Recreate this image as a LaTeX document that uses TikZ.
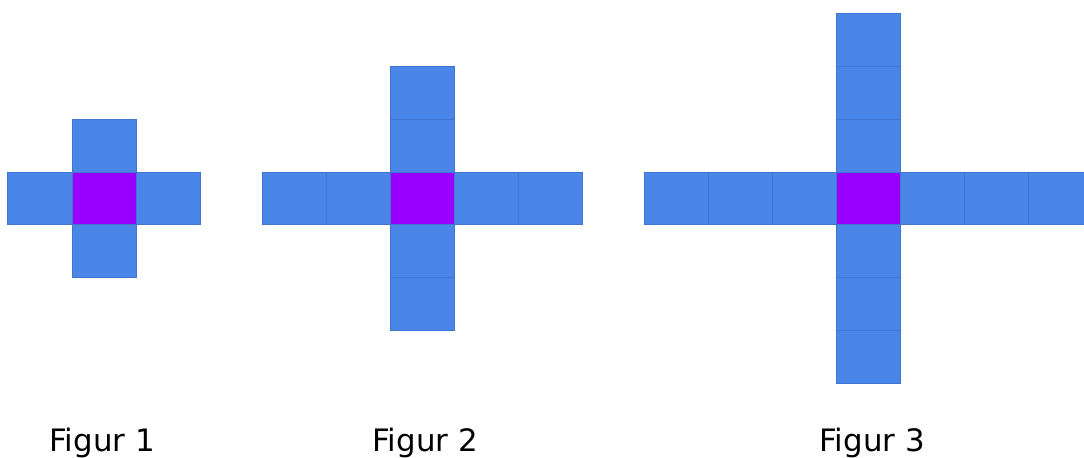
\documentclass[tikz,border=0pt]{standalone}
\usepackage{fontspec}
\setmainfont{DejaVu Sans}
\definecolor{cellblue}{HTML}{4A86E8}
\definecolor{celledge}{HTML}{3F74CF}
\definecolor{cellpurple}{HTML}{9900FF}
\begin{document}
\begin{tikzpicture}[x=1bp,y=1bp,
  cell/.style={draw=celledge,fill=cellblue,line width=1bp,minimum width=64bp,minimum height=52.8bp,inner sep=0pt},
  mid/.style={cell,fill=cellpurple},
  figlabel/.style={anchor=base,inner sep=0pt,font=\fontsize{31}{37}\selectfont}]
\useasboundingbox (0,0) rectangle (1084,458);
\clip (0,0) rectangle (1084,458);
%%
\foreach \n/\cx/\lx in {1/104/102, 2/422/425, 3/868/872} {
  % arms of length \n around the middle square
  \foreach \k in {1,...,\n} {
    \node (l\n-\k) at (\cx-64*\k,259.5) [cell] {};
    \node (r\n-\k) at (\cx+64*\k,259.5) [cell] {};
    \node (u\n-\k) at (\cx,259.5+52.8*\k) [cell] {};
    \node (d\n-\k) at (\cx,259.5-52.8*\k) [cell] {};
  }
  \node (m\n) at (\cx,259.5) [mid] {};
  \node (t\n) at (\lx,6) [figlabel] {Figur \n};
}
%
\end{tikzpicture}
\end{document}
